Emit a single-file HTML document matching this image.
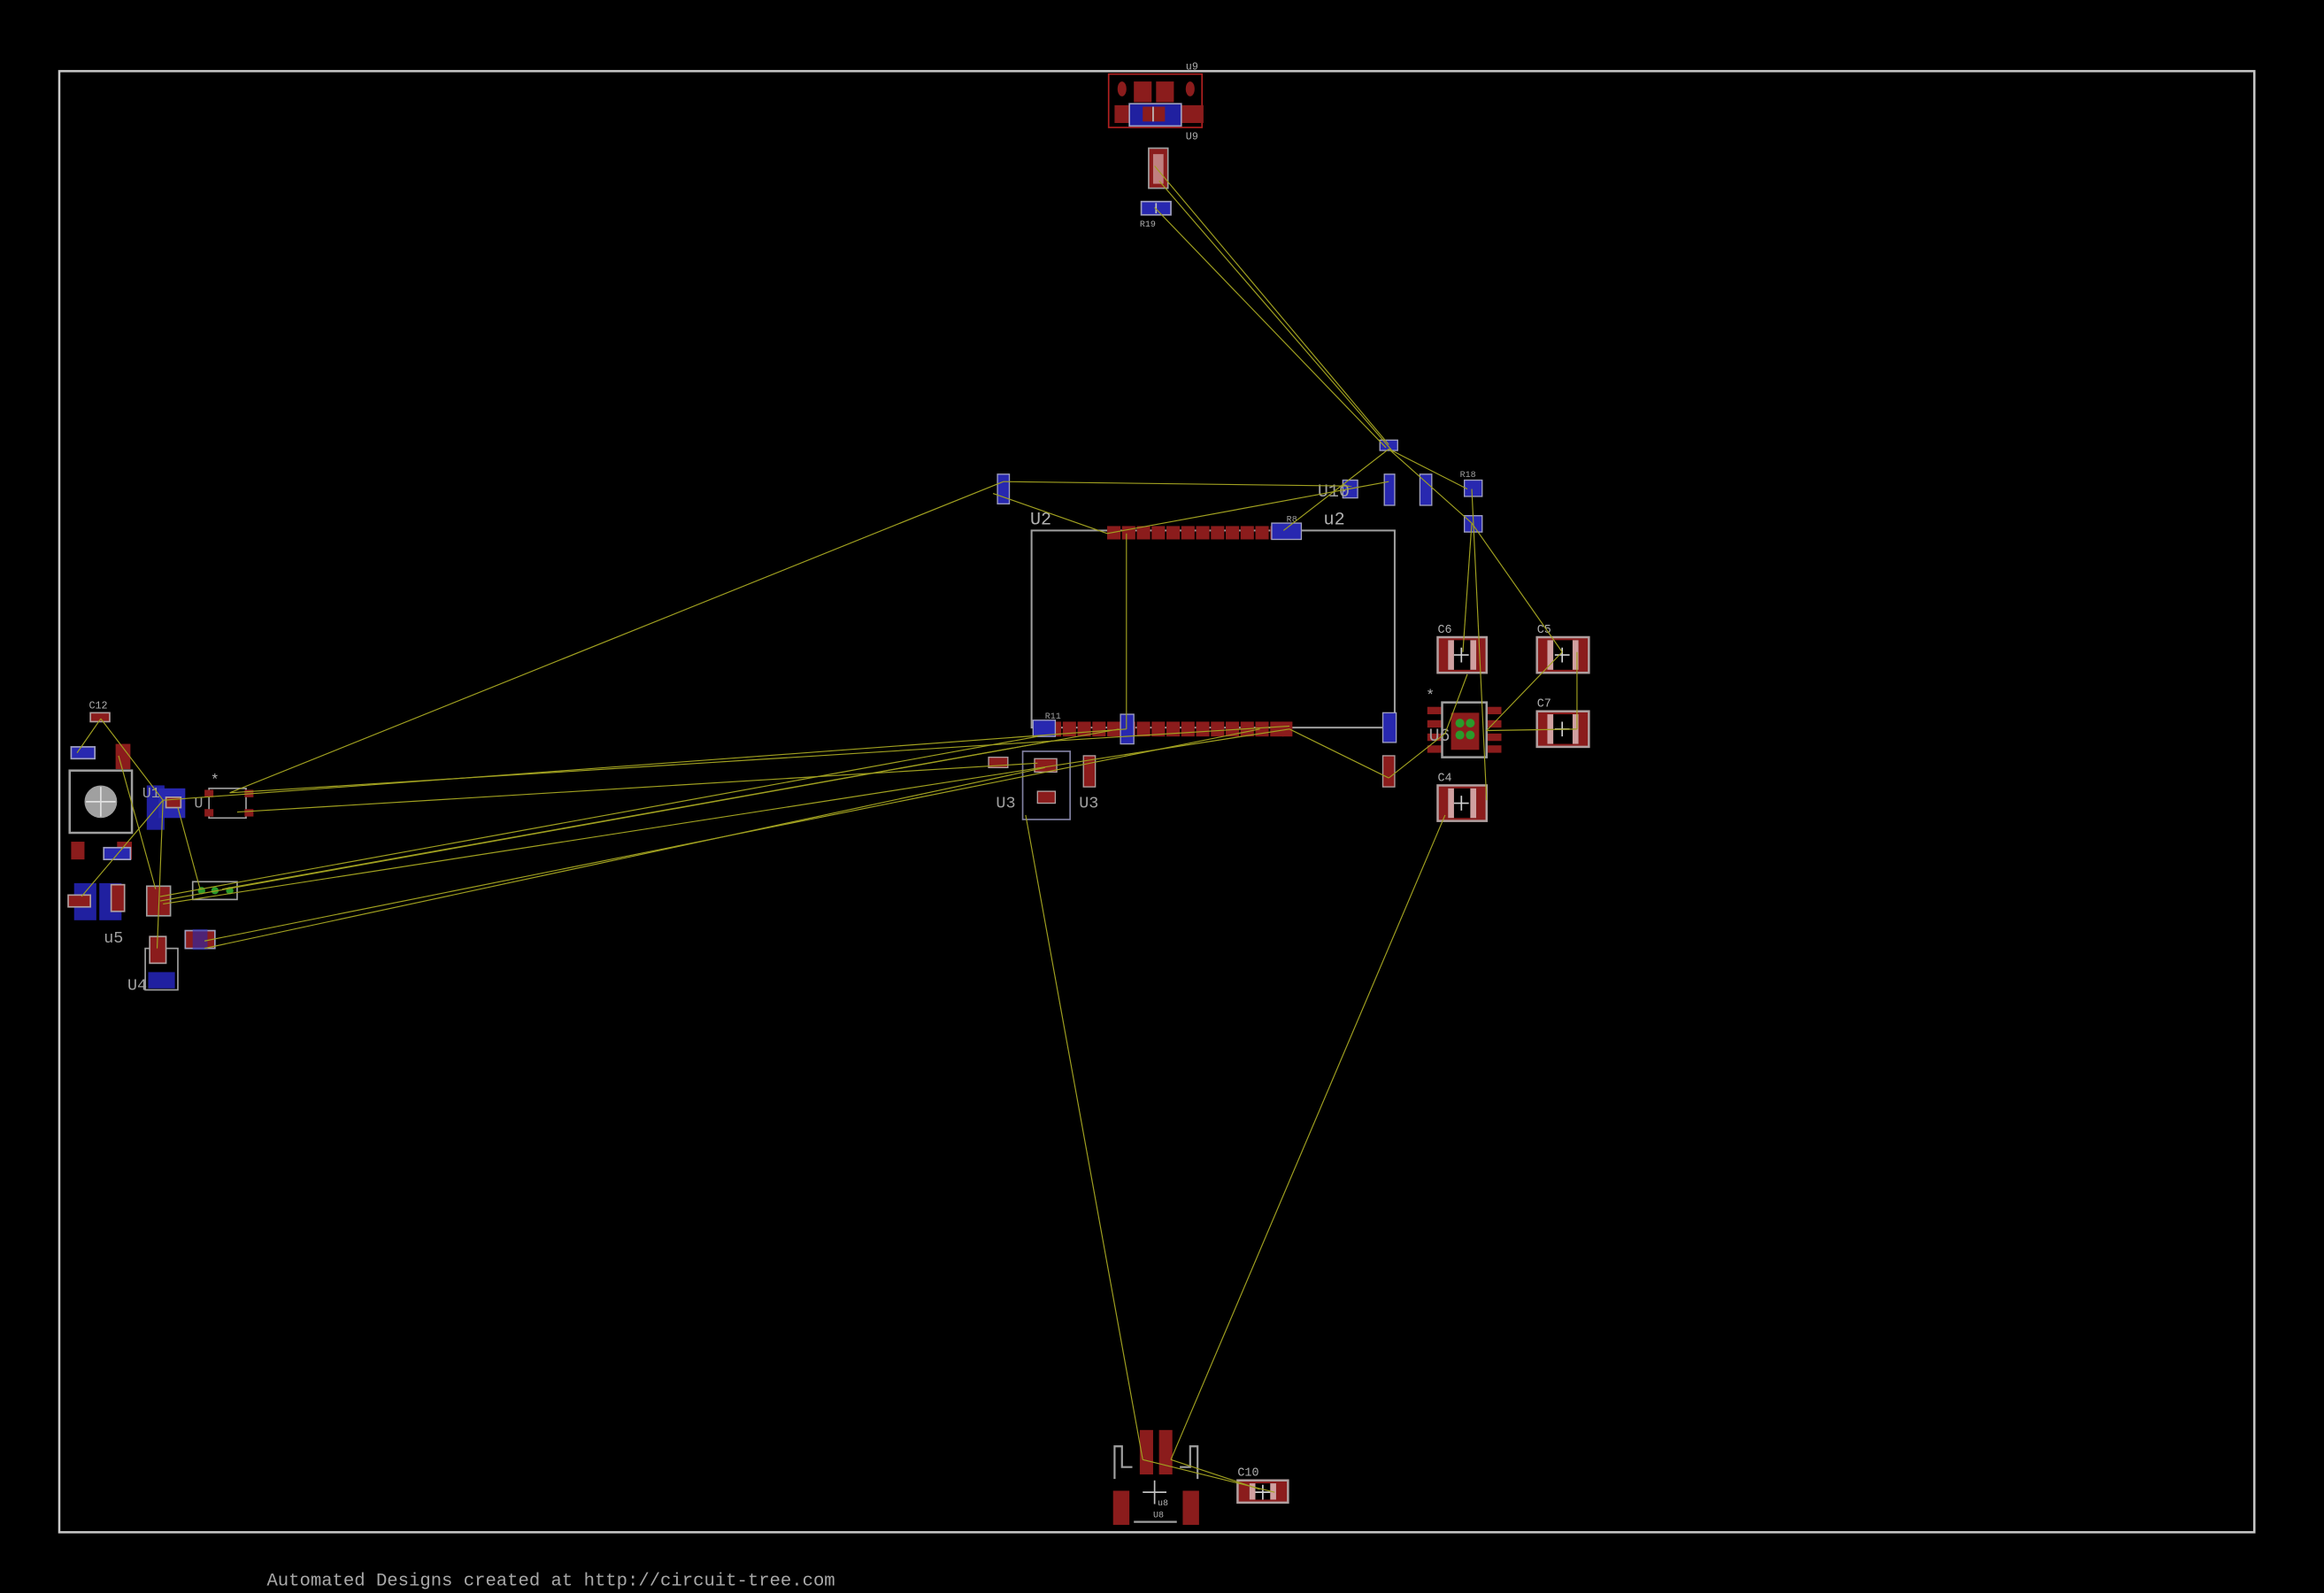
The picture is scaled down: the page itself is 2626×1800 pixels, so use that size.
<!DOCTYPE html>
<html><head><meta charset="utf-8"><style>
html,body{margin:0;padding:0;background:#000;}
svg{display:block;}
</style></head><body>
<svg width="2626" height="1800" viewBox="0 0 1568 1075" preserveAspectRatio="none" xmlns="http://www.w3.org/2000/svg" font-family="Liberation Mono, monospace">
<rect x="0" y="0" width="1568" height="1075" fill="#000"/>
<rect x="40" y="48" width="1481" height="986" fill="none" stroke="#c8c8c8" stroke-width="1.5"/>

<g>
<rect x="696" y="358" width="245" height="133" fill="none" stroke="#a0a0a0" stroke-width="1.2"/>
<text x="695" y="354" fill="#b0b0b0" font-size="12">U2</text>
<text x="893" y="354" fill="#b0b0b0" font-size="12">u2</text>
<g fill="#8b1c1c">
<rect x="747" y="355" width="9" height="9"/><rect x="757" y="355" width="9" height="9"/><rect x="767" y="355" width="9" height="9"/><rect x="777" y="355" width="9" height="9"/><rect x="787" y="355" width="9" height="9"/><rect x="797" y="355" width="9" height="9"/><rect x="807" y="355" width="9" height="9"/><rect x="817" y="355" width="9" height="9"/><rect x="827" y="355" width="9" height="9"/><rect x="837" y="355" width="9" height="9"/><rect x="847" y="355" width="9" height="9"/><rect x="857" y="355" width="9" height="9"/>
<rect x="697" y="487" width="9" height="10"/><rect x="707" y="487" width="9" height="10"/><rect x="717" y="487" width="9" height="10"/><rect x="727" y="487" width="9" height="10"/><rect x="737" y="487" width="9" height="10"/><rect x="747" y="487" width="9" height="10"/><rect x="757" y="487" width="9" height="10"/><rect x="767" y="487" width="9" height="10"/><rect x="777" y="487" width="9" height="10"/><rect x="787" y="487" width="9" height="10"/><rect x="797" y="487" width="9" height="10"/><rect x="807" y="487" width="9" height="10"/><rect x="817" y="487" width="9" height="10"/><rect x="827" y="487" width="9" height="10"/><rect x="837" y="487" width="9" height="10"/><rect x="847" y="487" width="9" height="10"/><rect x="857" y="487" width="9" height="10"/><rect x="865" y="487" width="7" height="10"/>
</g>
</g>

<g>
<rect x="748" y="50" width="63" height="36" fill="none" stroke="#b02020" stroke-width="1"/>
<rect x="765" y="55" width="12" height="14" fill="#8b1c1c"/><rect x="780" y="55" width="12" height="14" fill="#8b1c1c"/>
<rect x="752" y="71" width="60" height="12" fill="#8b1c1c"/>
<ellipse cx="757" cy="60" rx="3" ry="5" fill="#8b1c1c"/><ellipse cx="803" cy="60" rx="3" ry="5" fill="#8b1c1c"/>
<rect x="762" y="70" width="35" height="15" fill="#2020a0" stroke="#a0a0c0"/>
<rect x="771" y="72" width="15" height="10" fill="#8b1c1c"/>
<line x1="778" y1="72" x2="778" y2="82" stroke="#c0c0c0"/>
<text x="800" y="47" fill="#b0b0b0" font-size="7">u9</text>
<text x="800" y="94" fill="#b0b0b0" font-size="7">U9</text>
<rect x="775" y="100" width="13" height="27" fill="#8b1c1c" stroke="#a0a0a0"/>
<rect x="778" y="104" width="7" height="20" fill="#c08080"/>
<rect x="770" y="136" width="20" height="9" fill="#2828b0" stroke="#a0a0c0"/>
<line x1="780" y1="137" x2="780" y2="144" stroke="#c0c0c0"/>
<text x="769" y="153" fill="#b0b0b0" font-size="6">R19</text>
</g>

<g fill="#2828b0" stroke="#a0a0c0" stroke-width="0.8">
<rect x="673" y="320" width="8" height="20"/>
<rect x="858" y="353" width="20" height="11"/>
<rect x="934" y="320" width="7" height="21"/>
<rect x="958" y="320" width="8" height="21"/>
<rect x="988" y="324" width="12" height="11"/>
<rect x="988" y="348" width="12" height="11"/>
<rect x="931" y="297" width="12" height="7"/>
<rect x="906" y="324" width="10" height="12"/>
<rect x="933" y="481" width="9" height="20"/>
<rect x="756" y="482" width="9" height="20"/>
<rect x="697" y="486" width="15" height="11"/>
</g>
<g fill="#8b1c1c" stroke="#b0a0a0" stroke-width="0.8">
<rect x="933" y="510" width="8" height="21"/>
<rect x="731" y="510" width="8" height="21"/>
<rect x="667" y="511" width="13" height="7"/>
<rect x="698" y="512" width="15" height="9"/>
<rect x="700" y="534" width="12" height="8"/>
</g>
<text x="889" y="335" fill="#a0a0a0" font-size="12">U10</text>
<text x="868" y="352" fill="#a0a0a0" font-size="6">R8</text>
<text x="985" y="322" fill="#a0a0a0" font-size="6">R18</text>
<text x="705" y="485" fill="#a0a0a0" font-size="6">R11</text>
<rect x="690" y="507" width="32" height="46" fill="none" stroke="#8080a0" stroke-width="1"/>
<text x="672" y="545" fill="#a0a0a0" font-size="11">U3</text>
<text x="728" y="545" fill="#a0a0a0" font-size="11">U3</text>

<g>
<g><rect x="970" y="430" width="33" height="24" fill="#8b1c1c" stroke="#b0a0a0" stroke-width="1.5"/><rect x="977" y="432" width="19" height="20" fill="#000"/><rect x="977" y="432" width="4" height="20" fill="#d0a0a0"/><rect x="992" y="432" width="4" height="20" fill="#d0a0a0"/><path d="M986 437V447M981 442H991" stroke="#d0d0d0"/><text x="970" y="427" fill="#b0b0b0" font-size="8">C6</text></g>
<g><rect x="1037" y="430" width="35" height="24" fill="#8b1c1c" stroke="#b0a0a0" stroke-width="1.5"/><rect x="1044" y="432" width="21" height="20" fill="#000"/><rect x="1044" y="432" width="4" height="20" fill="#d0a0a0"/><rect x="1061" y="432" width="4" height="20" fill="#d0a0a0"/><path d="M1054 437V447M1049 442H1059" stroke="#d0d0d0"/><text x="1037" y="427" fill="#b0b0b0" font-size="8">C5</text></g>
<g><rect x="1037" y="480" width="35" height="24" fill="#8b1c1c" stroke="#b0a0a0" stroke-width="1.5"/><rect x="1044" y="482" width="21" height="20" fill="#000"/><rect x="1044" y="482" width="4" height="20" fill="#d0a0a0"/><rect x="1061" y="482" width="4" height="20" fill="#d0a0a0"/><path d="M1054 487V497M1049 492H1059" stroke="#d0d0d0"/><text x="1037" y="477" fill="#b0b0b0" font-size="8">C7</text></g>
<g><rect x="970" y="530" width="33" height="24" fill="#8b1c1c" stroke="#b0a0a0" stroke-width="1.5"/><rect x="977" y="532" width="19" height="20" fill="#000"/><rect x="977" y="532" width="4" height="20" fill="#d0a0a0"/><rect x="992" y="532" width="4" height="20" fill="#d0a0a0"/><path d="M986 537V547M981 542H991" stroke="#d0d0d0"/><text x="970" y="527" fill="#b0b0b0" font-size="8">C4</text></g>
<g><rect x="835" y="999" width="34" height="15" fill="#8b1c1c" stroke="#b0a0a0" stroke-width="1.5"/><rect x="843" y="1001" width="18" height="11" fill="#000"/><rect x="843" y="1001" width="4" height="11" fill="#d0a0a0"/><rect x="857" y="1001" width="4" height="11" fill="#d0a0a0"/><path d="M852 1002V1012M847 1007H857" stroke="#d0d0d0"/><text x="835" y="996" fill="#b0b0b0" font-size="8">C10</text></g>
<g><rect x="61" y="481" width="13" height="6" fill="#8b1c1c" stroke="#b0a0a0"/><text x="60" y="478" fill="#b0b0b0" font-size="7">C12</text></g>
</g>

<g>
<rect x="963" y="477" width="10" height="5" fill="#8b1c1c"/><rect x="963" y="486" width="10" height="5" fill="#8b1c1c"/><rect x="963" y="495" width="10" height="5" fill="#8b1c1c"/><rect x="963" y="503" width="10" height="5" fill="#8b1c1c"/>
<rect x="1003" y="477" width="10" height="5" fill="#8b1c1c"/><rect x="1003" y="486" width="10" height="5" fill="#8b1c1c"/><rect x="1003" y="495" width="10" height="5" fill="#8b1c1c"/><rect x="1003" y="503" width="10" height="5" fill="#8b1c1c"/>
<rect x="973" y="474" width="30" height="37" fill="none" stroke="#a0a0a0" stroke-width="1.5"/>
<rect x="979" y="481" width="19" height="25" fill="#8b1c1c"/>
<circle cx="985" cy="488" r="3" fill="#2a9a2a"/><circle cx="992" cy="488" r="3" fill="#2a9a2a"/><circle cx="985" cy="496" r="3" fill="#2a9a2a"/><circle cx="992" cy="496" r="3" fill="#2a9a2a"/>
<text x="964" y="500" fill="#a0a0a0" font-size="12">U6</text>
<text x="962" y="472" fill="#b0b0b0" font-size="10">*</text>
</g>

<g>
<rect x="769" y="965" width="9" height="30" fill="#8b1c1c"/><rect x="782" y="965" width="9" height="30" fill="#8b1c1c"/>
<rect x="751" y="1006" width="11" height="23" fill="#8b1c1c"/><rect x="798" y="1006" width="11" height="23" fill="#8b1c1c"/>
<path d="M752 998 V976 H757 V990 H764 M808 998 V976 H803 V990 H796" fill="none" stroke="#a0a0a0" stroke-width="1.3"/>
<line x1="765" y1="1027" x2="794" y2="1027" stroke="#a0a0a0" stroke-width="1.3"/>
<line x1="771" y1="1007" x2="787" y2="1007" stroke="#c0c0c0"/><line x1="779" y1="999" x2="779" y2="1015" stroke="#c0c0c0"/>
<text x="781" y="1016" fill="#b0b0b0" font-size="6">u8</text><text x="778" y="1024" fill="#b0b0b0" font-size="6">U8</text>
</g>

<g>
<rect x="78" y="502" width="10" height="17" fill="#8b1c1c"/>
<rect x="48" y="504" width="16" height="8" fill="#2828b0" stroke="#a0a0c0"/>
<rect x="79" y="568" width="10" height="12" fill="#8b1c1c"/><rect x="48" y="568" width="9" height="12" fill="#8b1c1c"/>
<rect x="47" y="520" width="42" height="42" fill="none" stroke="#a0a0a0" stroke-width="1.5"/>
<circle cx="68" cy="541" r="11" fill="#a0a0a0"/>
<path d="M68 531V551M58 541H78" stroke="#e0e0e0"/>
<rect x="99" y="530" width="12" height="30" fill="#2020a0"/>
<rect x="107" y="532" width="18" height="20" fill="#2828b0"/>
<rect x="112" y="538" width="10" height="7" fill="#8b1c1c" stroke="#b0a0a0"/>
<text x="96" y="538" fill="#a0a0a0" font-size="10">U1</text>
<text x="131" y="545" fill="#a0a0a0" font-size="10">U</text>
<rect x="141" y="532" width="25" height="20" fill="none" stroke="#a0a0a0"/>
<rect x="138" y="533" width="6" height="5" fill="#8b1c1c"/><rect x="138" y="546" width="6" height="5" fill="#8b1c1c"/><rect x="165" y="533" width="6" height="5" fill="#8b1c1c"/><rect x="165" y="546" width="6" height="5" fill="#8b1c1c"/>
<text x="142" y="529" fill="#b0b0b0" font-size="10">*</text>
<rect x="70" y="572" width="18" height="8" fill="#2828b0" stroke="#a0a0c0"/>
<rect x="50" y="596" width="15" height="25" fill="#2020a0"/><rect x="67" y="596" width="15" height="25" fill="#2020a0"/>
<rect x="46" y="604" width="15" height="8" fill="#8b1c1c" stroke="#b0a0a0"/>
<rect x="75" y="597" width="9" height="18" fill="#8b1c1c" stroke="#b0a0a0"/>
<rect x="99" y="598" width="16" height="20" fill="#8b1c1c" stroke="#a0a0a0"/>
<rect x="130" y="595" width="30" height="12" fill="none" stroke="#a0a0a0"/>
<circle cx="136" cy="601" r="2.5" fill="#2a9a2a"/><circle cx="145" cy="601" r="2.5" fill="#2a9a2a"/><circle cx="155" cy="601" r="2.5" fill="#2a9a2a"/>
<rect x="125" y="628" width="20" height="12" fill="#8b1c1c" stroke="#a0a0c0"/>
<rect x="130" y="627" width="10" height="14" fill="#2828b0" opacity="0.6"/>
<rect x="98" y="640" width="22" height="28" fill="none" stroke="#a0a0a0"/>
<rect x="100" y="656" width="18" height="11" fill="#2020a0"/>
<rect x="101" y="632" width="11" height="18" fill="#8b1c1c" stroke="#b0a0a0"/>
<text x="70" y="636" fill="#a0a0a0" font-size="11">u5</text>
<text x="86" y="668" fill="#a0a0a0" font-size="11">U4</text>
</g>

<g stroke="#a0a020" stroke-width="0.7" fill="none">
<line x1="779" y1="112" x2="937" y2="300"/><line x1="782" y1="122" x2="940" y2="305"/><line x1="779" y1="140" x2="935" y2="302"/>
<line x1="155" y1="535" x2="677" y2="325"/><line x1="677" y1="325" x2="912" y2="328"/>
<line x1="747" y1="360" x2="670" y2="333"/><line x1="747" y1="360" x2="937" y2="325"/><line x1="760" y1="360" x2="760" y2="492"/>
<line x1="866" y1="358" x2="937" y2="303"/><line x1="937" y1="303" x2="990" y2="330"/><line x1="937" y1="303" x2="993" y2="353"/>
<line x1="993" y1="353" x2="1054" y2="440"/><line x1="993" y1="353" x2="987" y2="440"/><line x1="993" y1="330" x2="1003" y2="540"/>
<line x1="1054" y1="440" x2="1003" y2="493"/><line x1="1064" y1="440" x2="1064" y2="492"/><line x1="1003" y1="493" x2="1064" y2="492"/>
<line x1="990" y1="455" x2="975" y2="495"/><line x1="870" y1="492" x2="937" y2="525"/><line x1="937" y1="525" x2="975" y2="495"/>
<line x1="692" y1="550" x2="771" y2="985"/><line x1="975" y1="550" x2="790" y2="985"/>
<line x1="771" y1="985" x2="860" y2="1007"/><line x1="790" y1="985" x2="850" y2="1005"/>
<line x1="155" y1="535" x2="870" y2="490"/><line x1="160" y1="548" x2="700" y2="515"/><line x1="110" y1="540" x2="760" y2="492"/>
<line x1="108" y1="605" x2="700" y2="497"/><line x1="108" y1="608" x2="755" y2="492"/><line x1="110" y1="610" x2="870" y2="492"/>
<line x1="150" y1="600" x2="710" y2="500"/><line x1="138" y1="635" x2="850" y2="492"/><line x1="138" y1="640" x2="705" y2="518"/>
<line x1="68" y1="485" x2="110" y2="540"/><line x1="68" y1="485" x2="52" y2="508"/><line x1="80" y1="510" x2="105" y2="600"/>
<line x1="110" y1="540" x2="106" y2="640"/><line x1="120" y1="545" x2="135" y2="600"/><line x1="55" y1="605" x2="110" y2="540"/>
</g>

<text x="180" y="1070" fill="#a8a8a8" font-size="12.3">Automated Designs created at http://circuit-tree.com</text>
</svg>
</body></html>
